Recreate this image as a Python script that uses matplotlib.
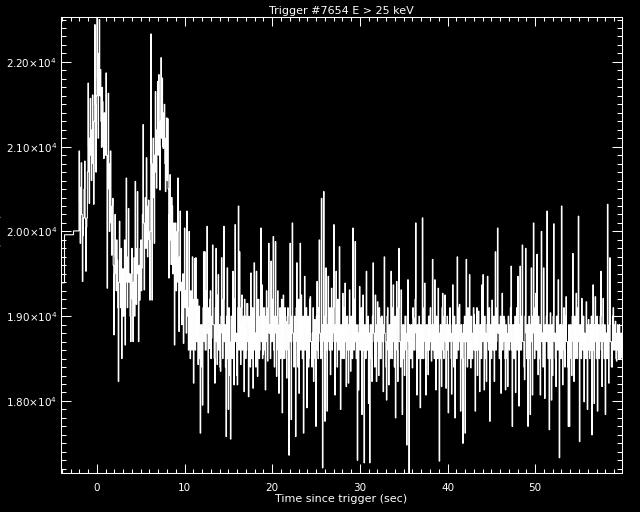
import matplotlib
matplotlib.use('Agg')
import matplotlib.pyplot as plt
import matplotlib.ticker as tkr
import numpy as np

# DATA

# pre-trigger 1.024 s bins (left edges + last right edge)
pre_edges = [-4.72, -3.696, -2.672, -2.048]
pre_rate = [19394, 19961, 20006]

# 64 ms bins starting at -2.048 s, one row = 1.024 s
bin_start = -2.048
bin_width = 0.064
rate = [
    20950, 20350, 19860, 20520, 20810, 20200, 19410, 19950, 20160, 20500, 20830, 20150, 19530, 20050, 20160, 20700,
    21750, 21000, 20330, 21100, 21570, 20900, 20600, 21200, 21610, 20800, 20320, 21300, 22440, 21500, 20700, 21600,
    22560, 21800, 21100, 22100, 22500, 21600, 21910, 21300, 20990, 21700, 21530, 21000, 20860, 21400, 21380, 20900,
    21870, 20900, 19330, 20500, 21630, 20700, 20000, 20800, 20950, 20100, 19720, 20300, 20390, 19600, 18780, 19500,
    20200, 19700, 19300, 19900, 19660, 19100, 18230, 19400, 20120, 19500, 19100, 19800, 18500, 19300, 19560, 19000,
    19490, 19900, 18660, 19400, 20630, 19700, 19100, 19600, 20270, 19400, 19500, 19000, 18700, 19500, 19800, 19200,
    18700, 19400, 19690, 19000, 20590, 19800, 19140, 19700, 20470, 19500, 18700, 19600, 19190, 19800, 19900, 19300,
    19570, 20200, 21260, 20100, 19310, 20000, 20400, 19800, 20870, 20200, 19700, 20300, 20370, 19900, 19190, 20000,
    22330, 20800, 19190, 20600, 21100, 20400, 19860, 20900, 21650, 20700, 20510, 21200, 21770, 20900, 21850, 21000,
    20490, 21300, 22050, 21100, 21810, 21000, 20980, 21400, 21500, 20800, 20470, 21100, 21340, 20600, 21330, 20500,
    19450, 20200, 20670, 19900, 19610, 20400, 20300, 19500, 19750, 20100, 18660, 19600, 20100, 19300, 19400, 20000,
    20630, 19400, 18820, 19700, 20240, 19300, 19400, 18900, 19020, 19500, 18680, 19300, 20040, 19100, 19300, 18800,
    20240, 19100, 19000, 18600, 20000, 18900, 18500, 19300, 19100, 18600, 19700, 18700, 18210, 19200, 19680, 18600,
    19690, 18700, 18800, 19200, 18430, 19000, 19120, 18500, 17620, 18900, 18900, 18400, 17950, 19100, 19760, 18700,
    19760, 18600, 18600, 19300, 20060, 18800, 17860, 19100, 18620, 19200, 19300, 18500, 18740, 19000, 19840, 18900,
    18900, 18500, 18210, 19100, 19800, 18700, 18430, 19250, 19490, 18600, 18900, 18400, 18350, 19000, 19690, 18800,
    18500, 19200, 20060, 18700, 18900, 18400, 17580, 19000, 19570, 18500, 17900, 19100, 18700, 18300, 17550, 19000,
    19000, 18500, 19530, 18800, 18190, 19200, 20080, 18700, 18800, 18300, 18190, 19100, 20300, 18600, 19760, 18900,
    18430, 19100, 19250, 18600, 18700, 19000, 18110, 19200, 19000, 18500, 18600, 19150, 19150, 18700, 18050, 19000,
    18900, 18400, 19510, 18700, 18500, 19100, 18150, 18900, 19630, 18600, 18800, 18400, 19530, 18900, 18290, 19200,
    19000, 18500, 18600, 19200, 20040, 18700, 19370, 18500, 18550, 19100, 19100, 18600, 18130, 19000, 19300, 18700,
    18470, 19100, 19860, 18800, 18900, 18500, 19650, 18700, 18700, 19200, 19940, 18600, 18400, 19000, 19880, 18800,
    18290, 19000, 19300, 18600, 18090, 18900, 19100, 18500, 18800, 19200, 17860, 18800, 19250, 18500, 18600, 19100,
    18940, 18500, 18270, 19000, 19100, 18600, 17360, 18900, 19860, 18700, 17780, 19000, 20100, 18800, 18700, 18400,
    19000, 18600, 17580, 19100, 19630, 18700, 18400, 19200, 18090, 18900, 19860, 18600, 19250, 18800, 18500, 19000,
    17620, 18900, 19470, 18600, 18600, 19100, 17920, 18800, 19000, 18400, 18500, 19200, 19230, 18700, 18700, 18400,
    18800, 19100, 18230, 18900, 18960, 18500, 17700, 19000, 19410, 18600, 18500, 19100, 19900, 18800, 18700, 18500,
    20390, 18900, 17210, 18800, 20470, 18700, 17760, 19000, 19570, 18600, 17880, 18900, 19470, 18700, 18600, 19100,
    18310, 19000, 19330, 18600, 18700, 19100, 20080, 18800, 18070, 18900, 19530, 18700, 18400, 19200, 19000, 18600,
    19820, 18700, 17900, 18900, 18800, 18500, 19270, 18800, 18500, 19100, 19390, 18700, 18170, 19000, 19000, 18600,
    18210, 18900, 19310, 18600, 18350, 19000, 18950, 18500, 20040, 18800, 18600, 19200, 19880, 18700, 18500, 18900,
    17300, 18800, 18130, 18900, 19350, 18600, 18700, 19100, 17840, 18800, 19250, 18600, 17270, 18900, 18800, 18500,
    19530, 18700, 18600, 19000, 17970, 18800, 17270, 18900, 18900, 18500, 18230, 19000, 19630, 18800, 18700, 18400,
    19250, 18600, 18230, 18900, 19170, 18700, 18300, 19100, 18980, 18500, 18500, 19000, 19000, 18700, 18110, 18900,
    19700, 18800, 18700, 18400, 18010, 19000, 19100, 18600, 18190, 18900, 18900, 18500, 19530, 18800, 18500, 19100,
    19370, 18700, 18400, 19000, 17800, 18900, 19410, 18600, 18230, 19100, 19800, 18700, 18700, 18400, 19310, 18800,
    17840, 18900, 18900, 18500, 18300, 19000, 19000, 18600, 17480, 18800, 19430, 18700, 17150, 18900, 18700, 18500,
    18900, 18500, 18390, 19100, 18980, 18600, 18600, 19200, 20100, 18800, 18070, 18900, 18800, 18500, 19000, 18700,
    17920, 18900, 18700, 18500, 20160, 18800, 18500, 19100, 19390, 18700, 18070, 18900, 18900, 18600, 18310, 19000,
    18600, 19000, 19100, 18700, 18470, 18900, 19670, 18600, 18900, 18500, 19430, 18800, 18130, 19000, 18800, 18500,
    19330, 18700, 17290, 18800, 18900, 18500, 18170, 19100, 19270, 18600, 18500, 19000, 19250, 18700, 18150, 18900,
    19000, 18600, 17860, 18900, 18700, 19100, 18900, 18500, 18080, 18800, 19370, 18700, 18400, 19000, 17800, 18800,
    18900, 18500, 19700, 18800, 18600, 19100, 19140, 18700, 17880, 18900, 18800, 18500, 17500, 18900, 18700, 19000,
    17620, 18800, 19670, 18700, 18400, 19100, 18900, 18500, 19490, 18700, 18390, 19000, 18800, 18500, 18600, 19100,
    19020, 18600, 17880, 18900, 18600, 19100, 18300, 18800, 19060, 18600, 18110, 18900, 18800, 18500, 19370, 18700,
    19490, 18800, 18130, 19000, 18800, 18500, 18230, 18900, 19470, 18700, 18600, 19100, 17760, 18800, 18900, 18500,
    19190, 18700, 18600, 19000, 18230, 18900, 19760, 18600, 18700, 19100, 20040, 18800, 18900, 18500, 18500, 19000,
    18090, 18800, 19270, 18600, 18700, 19000, 18960, 18500, 18130, 18900, 18800, 18500, 18170, 19000, 18900, 18600,
    18700, 19100, 19590, 18600, 17700, 18900, 18900, 18500, 18500, 19000, 18100, 18800, 19100, 18600, 19470, 18700,
    17940, 18900, 19590, 18600, 18600, 19000, 19840, 18700, 18700, 18400, 18250, 19000, 19800, 18800, 18500, 18900,
    17700, 18800, 19000, 18500, 17840, 18900, 19570, 18700, 18070, 19000, 20100, 18800, 18500, 19100, 19270, 18600,
    19730, 18700, 18310, 19000, 18900, 18500, 18070, 18900, 20000, 18700, 18800, 18400, 19570, 18800, 18030, 18900,
    18700, 19000, 20240, 18700, 18500, 18900, 17660, 18800, 19040, 18500, 18010, 18900, 18300, 19000, 20090, 18700,
    18800, 18500, 18170, 19000, 19000, 18600, 19430, 18800, 17330, 18900, 18900, 18500, 20300, 18700, 18190, 18900,
    19100, 18600, 18400, 19000, 19230, 18700, 18700, 18400, 17700, 18900, 17700, 18800, 18900, 18500, 18300, 19000,
    19740, 18700, 18230, 19000, 18900, 18500, 19270, 18800, 18500, 19100, 20180, 18700, 17520, 18900, 18800, 18500,
    19210, 18700, 18600, 19000, 17990, 18800, 18700, 18500, 19170, 18600, 17900, 18900, 18960, 18600, 18500, 18900,
    18600, 19000, 17600, 18800, 19370, 18600, 17970, 18900, 19230, 18700, 18500, 19000, 17880, 18800, 18900, 18500,
    18700, 19000, 19530, 18600, 18170, 18900, 19210, 18700, 18500, 18900, 17840, 18800, 18800, 18500, 20320, 18700,
    18210, 18900, 19690, 18700, 18700, 18400, 18400, 19000, 19100, 18600, 18600, 18900, 18940, 18500, 18470, 18800,
    18900, 18600, 18500, 18900, 18800, 18500, 18510, 18800,
]

x_range = (-4.096, 59.904)
y_range = (17150, 22530)
y_major = [18000, 19000, 20000, 21000, 22000]
y_labels = ['1.80\u00d710$^{4}$', '1.90\u00d710$^{4}$', '2.00\u00d710$^{4}$',
            '2.10\u00d710$^{4}$', '2.20\u00d710$^{4}$']

title = 'Trigger #7654 E > 25 keV'
xlabel = 'Time since trigger (sec)'
ylabel = 'Rate (cts/s)'

# PLOT

plt.rcParams['font.family'] = ['DejaVu Sans']
fig = plt.figure(figsize=(6.4, 5.12), dpi=100, facecolor='black')
ax = fig.add_axes([61 / 640, 1 - 473 / 512, 561 / 640, 456 / 512])
ax.set_facecolor('black')

edges = np.concatenate([pre_edges,
                        bin_start + bin_width * np.arange(1, len(rate) + 1)])
values = np.array(pre_rate + rate, dtype=float)
ax.stairs(values, edges, baseline=None, color='white', linewidth=0.8)

ax.set_xlim(*x_range)
ax.set_ylim(*y_range)

# IDL-like axes: inward ticks on all sides
for sp in ax.spines.values():
    sp.set_color('white')
    sp.set_linewidth(0.75)
ax.xaxis.set_major_locator(tkr.MultipleLocator(10))
ax.xaxis.set_minor_locator(tkr.MultipleLocator(1))
ax.yaxis.set_major_locator(tkr.FixedLocator(y_major))
ax.yaxis.set_major_formatter(tkr.FixedFormatter(y_labels))
ax.yaxis.set_minor_locator(tkr.MultipleLocator(100))
ax.tick_params(axis='both', which='both', direction='in', colors='white',
               top=True, right=True, width=0.75, labelsize=7.5)
ax.tick_params(axis='x', which='major', length=6.5, pad=7)
ax.tick_params(axis='x', which='minor', length=3.2)
ax.tick_params(axis='y', which='major', length=7.2, pad=3)
ax.tick_params(axis='y', which='minor', length=3.6)

ax.set_title(title, color='white', fontsize=8, pad=2.5)
ax.set_xlabel(xlabel, color='white', fontsize=8, labelpad=1)
fig.text(-3 / 640, 0.521, ylabel, color='white', fontsize=8,
         rotation=90, ha='center', va='center')

fig.savefig('out.png', dpi=100, facecolor='black')
